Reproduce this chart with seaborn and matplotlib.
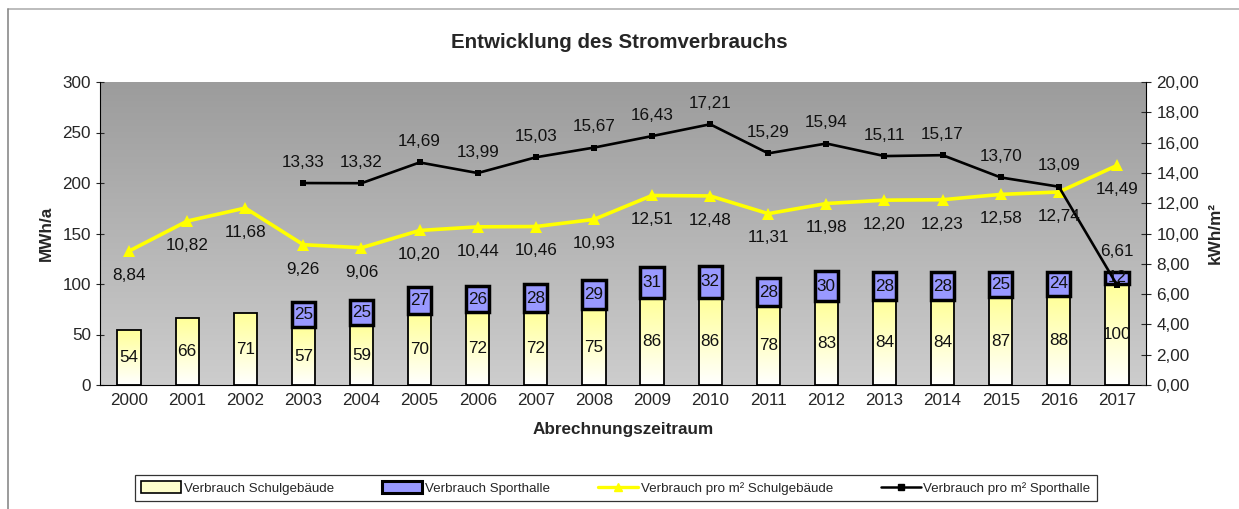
import numpy as np
import pandas as pd
import matplotlib
matplotlib.use("Agg")
import matplotlib.pyplot as plt
from matplotlib.lines import Line2D
from matplotlib.patches import Patch
from matplotlib.colors import LinearSegmentedColormap
import seaborn as sns

# ---- data ----
years = [str(y) for y in range(2000, 2018)]
schul = [54, 66, 71, 57, 59, 70, 72, 72, 75, 86, 86, 78, 83, 84, 84, 87, 88, 100]
sport_years = [str(y) for y in range(2003, 2018)]
sport = [25, 25, 27, 26, 28, 29, 31, 32, 28, 30, 28, 28, 25, 24, 12]
schul_m2 = [8.84, 10.82, 11.68, 9.26, 9.06, 10.20, 10.44, 10.46, 10.93, 12.51,
            12.48, 11.31, 11.98, 12.20, 12.23, 12.58, 12.74, 14.49]
sport_m2 = [13.33, 13.32, 14.69, 13.99, 15.03, 15.67, 16.43, 17.21, 15.29,
            15.94, 15.11, 15.17, 13.70, 13.09, 6.61]

title = "Entwicklung des Stromverbrauchs"
ylabel_left = "MWh/a"
ylabel_right = "kWh/m²"
xlabel = "Abrechnungszeitraum"
legend_labels = ["Verbrauch Schulgebäude", "Verbrauch Sporthalle",
                 "Verbrauch pro m² Schulgebäude", "Verbrauch pro m² Sporthalle"]

sns.set_style("white")
plt.rcParams["font.family"] = ["Liberation Sans", "DejaVu Sans"]

FS = 12.3

df_schul = pd.DataFrame({"Jahr": years, "MWh": schul})
df_sport = pd.DataFrame({"Jahr": sport_years, "MWh": sport})
df_schul_m2 = pd.DataFrame({"Jahr": years, "kWh": schul_m2})
df_sport_m2 = pd.DataFrame({"Jahr": sport_years, "kWh": sport_m2})
schul_map = dict(zip(years, schul))
sport_bottom = [schul_map[y] for y in sport_years]

W, H = 1239, 509
fig = plt.figure(figsize=(W / 100, H / 100), dpi=100)

L, R, T, B = 100, 1146, 82, 385
pos = [L / W, 1 - B / H, (R - L) / W, (B - T) / H]

# background gradient
bg = fig.add_axes(pos, zorder=0)
grad = np.linspace(0, 1, 256).reshape(-1, 1)
bg_cmap = LinearSegmentedColormap.from_list("bg", ["#9c9c9c", "#cdcdcd"])
bg.imshow(grad, aspect="auto", cmap=bg_cmap, extent=[0, 1, 0, 1], origin="upper")
bg.set_axis_off()

ax = fig.add_axes(pos, zorder=1)
ax.patch.set_alpha(0)

# Schulgebäude bars
sns.barplot(data=df_schul, x="Jahr", y="MWh", order=years, color="#ffffcc",
            edgecolor="black", linewidth=1.3, width=0.4, ax=ax, zorder=3)
cont_schul = ax.containers[0]
bar_cmap = LinearSegmentedColormap.from_list("bar", ["#ffff99", "#ffffff"])
for p in cont_schul.patches:
    p.set_facecolor("none")
    x0, y0, w, h = p.get_x(), p.get_y(), p.get_width(), p.get_height()
    im = ax.imshow(grad, aspect="auto", cmap=bar_cmap, origin="upper",
                   extent=[x0, x0 + w, y0, y0 + h], zorder=2)
    im.set_clip_path(p)

# Sporthalle bars (stacked)
sns.barplot(data=df_sport, x="Jahr", y="MWh", order=years, color="#9999ff",
            edgecolor="black", linewidth=2.5, width=0.4, ax=ax,
            bottom=sport_bottom, zorder=3)
cont_sport = ax.containers[1]
for p in cont_sport.patches:
    p.set_facecolor("#9999ff")

ax.bar_label(cont_schul, labels=[str(v) for v in schul], label_type="center",
             fontsize=FS, color="#111111", zorder=4)
ax.bar_label(cont_sport, labels=[str(v) for v in sport], label_type="center",
             fontsize=FS, color="#111111", zorder=4)

ax.set_xlim(-0.5, len(years) - 0.5)
ax.set_ylim(0, 300)
ax.set_yticks(range(0, 301, 50))
ax.set_xticks(np.arange(len(years)))
ax.set_xticklabels(years)
ax.set_xticks(np.arange(-0.5, len(years), 1), minor=True)
ax.tick_params(axis="x", which="major", length=0, labelsize=FS, pad=6)
ax.tick_params(axis="x", which="minor", length=5, direction="inout", width=0.8)
ax.tick_params(axis="y", length=6, direction="inout", width=0.8, labelsize=FS,
               left=True)
ax.set_xlabel(xlabel, fontsize=FS, fontweight="bold", labelpad=10)
ax.set_ylabel(ylabel_left, fontsize=FS, fontweight="bold", labelpad=6)
for s in ["top", "right"]:
    ax.spines[s].set_visible(False)
for s in ["left", "bottom"]:
    ax.spines[s].set_color("black")
    ax.spines[s].set_linewidth(0.8)

# lines on secondary axis
ax2 = ax.twinx()
ax2.set_zorder(2)
ax2.patch.set_alpha(0)
sns.pointplot(data=df_schul_m2, x="Jahr", y="kWh", order=years, color="#ffff00",
              markers="^", linewidth=2.6, markersize=8, markeredgewidth=0,
              errorbar=None, ax=ax2)
sns.pointplot(data=df_sport_m2, x="Jahr", y="kWh", order=years, color="black",
              markers="s", linewidth=1.9, markersize=5, markeredgewidth=0,
              errorbar=None, ax=ax2)
ax2.set_xlim(-0.5, len(years) - 0.5)
ax2.set_ylim(0, 20)
ax2.set_yticks(np.arange(0, 20.01, 2))
ax2.set_yticklabels([f"{v:.2f}".replace(".", ",") for v in np.arange(0, 20.01, 2)])
ax2.tick_params(axis="y", right=True, length=7, direction="inout", width=0.8,
                labelsize=FS, pad=4)
ax2.set_ylabel(ylabel_right, fontsize=FS, fontweight="bold", labelpad=6)
ax2.set_xlabel("")
for s in ["top", "left", "bottom"]:
    ax2.spines[s].set_visible(False)
ax2.spines["right"].set_color("black")
ax2.spines["right"].set_linewidth(0.8)

pos_map = {y: i for i, y in enumerate(years)}
for y, v in zip(years, schul_m2):
    ax2.annotate(f"{v:.2f}".replace(".", ","), (pos_map[y], v),
                 xytext=(0, -17.5), textcoords="offset points",
                 ha="center", va="center", fontsize=FS, color="#111111")
for k, (y, v) in enumerate(zip(sport_years, sport_m2)):
    off = 24 if k == len(sport_years) - 1 else 15
    ax2.annotate(f"{v:.2f}".replace(".", ","), (pos_map[y], v),
                 xytext=(0, off), textcoords="offset points",
                 ha="center", va="center", fontsize=FS, color="#111111")

fig.text(0.5, 1 - 42 / H, title, ha="center", va="center", fontsize=14.8,
         fontweight="bold")

# legend
handles = [
    Patch(facecolor="#ffffcc", edgecolor="black", linewidth=1.2),
    Patch(facecolor="#9999ff", edgecolor="black", linewidth=2.2),
    Line2D([], [], color="#ffff00", lw=2.4, marker="^", markersize=6),
    Line2D([], [], color="black", lw=1.8, marker="s", markersize=4.5),
]
leg = fig.legend(handles, legend_labels, loc="center",
                 bbox_to_anchor=(616 / W, 1 - 488 / H), ncol=4, fontsize=9.6,
                 frameon=True, fancybox=False, edgecolor="black",
                 handlelength=3.0, handleheight=0.9, columnspacing=3.6,
                 handletextpad=0.2, borderpad=0.5)
leg.get_frame().set_linewidth(0.9)

# figure border (top & left)
fig.add_artist(Line2D([8 / W, 1], [1 - 9 / H, 1 - 9 / H], color="#b0b0b0", lw=1.2))
fig.add_artist(Line2D([8 / W, 8 / W], [0, 1 - 9 / H], color="#8a8a8a", lw=1.2))

fig.savefig("out.png", dpi=100)
